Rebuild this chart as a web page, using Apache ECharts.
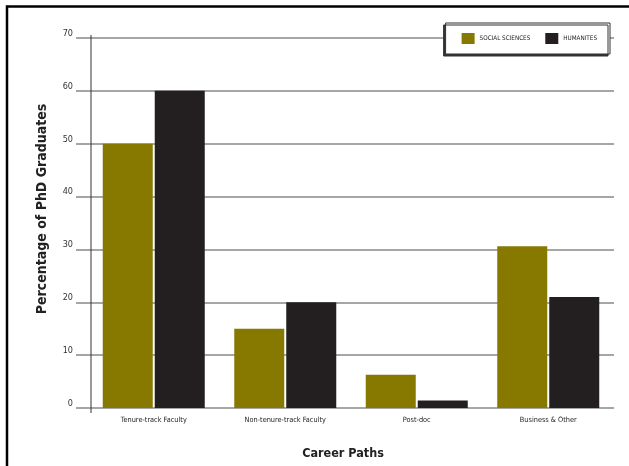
<!DOCTYPE html>
<html><head><meta charset="utf-8">
<script src="https://cdn.jsdelivr.net/npm/echarts@6/dist/echarts.min.js"></script>
<style>html,body{margin:0;padding:0;background:#fff}#c{width:629px;height:466px}</style>
</head><body><div id="c"></div>
<script>
const categories = ['Tenure-track Faculty', 'Non-tenure-track Faculty', 'Post-doc', 'Business & Other'];
const socialSciences = [50, 15, 6.3, 30.6];
const humanities = [60, 20, 1.4, 21];
const seriesNames = ['SOCIAL SCIENCES', 'HUMANITES'];
const FONT = '"Liberation Sans Narrow", "DejaVu Sans Condensed", "Liberation Sans", sans-serif';

const chart = echarts.init(document.getElementById('c'), null, {renderer: 'canvas'});
chart.setOption({
  animation: false,
  backgroundColor: '#fff',
  textStyle: {fontFamily: FONT},
  grid: {left: 88, right: 15, top: 38, bottom: 58, containLabel: false},
  legend: {
    right: 19, top: 23,
    padding: [10, 13, 10, 16],
    itemWidth: 13, itemHeight: 11, itemGap: 15,
    icon: 'rect',
    backgroundColor: '#fff', borderColor: '#333', borderWidth: 1,
    shadowColor: '#333', shadowOffsetX: -2, shadowOffsetY: 2, shadowBlur: 0,
    textStyle: {fontFamily: FONT, fontSize: 6.3, color: '#222'},
    data: seriesNames
  },
  xAxis: {
    type: 'category', data: categories,
    axisLine: {show: false}, axisTick: {show: false},
    axisLabel: {interval: 0, fontFamily: FONT, fontSize: 7.3, color: '#222', margin: 9},
    name: 'Career Paths', nameLocation: 'middle', nameGap: 39,
    nameTextStyle: {fontFamily: FONT, fontSize: 12.5, fontWeight: 'bold', color: '#222', padding: [0, 16, 0, 0]}
  },
  yAxis: {
    type: 'value', min: 0, max: 70, interval: 10,
    axisLine: {show: false},
    axisTick: {show: true, length: 12, lineStyle: {color: '#888', width: 1.5}},
    splitLine: {lineStyle: {color: '#888', width: 1.5}},
    axisLabel: {fontFamily: FONT, fontSize: 9, color: '#333', margin: 15, verticalAlign: 'bottom'},
    name: 'Percentage of PhD Graduates', nameLocation: 'middle', nameGap: 39, nameRotate: 90,
    nameTextStyle: {fontFamily: FONT, fontSize: 14, fontWeight: 'bold', color: '#222', padding: [0, 0, 0, 28]}
  },
  series: [
    {name: seriesNames[0], type: 'bar', data: socialSciences, barWidth: 50, barGap: '4%',
     itemStyle: {color: '#877800'}},
    {name: seriesNames[1], type: 'bar', data: humanities, barWidth: 50,
     itemStyle: {color: '#231f20'}}
  ],
  graphic: [
    {type: 'line', shape: {x1: 91, y1: 35, x2: 91, y2: 413}, style: {stroke: '#333', lineWidth: 1}, z: 10},
    {type: 'polyline', shape: {points: [[7, 470], [7, 6.5], [640, 6.5]]}, style: {stroke: '#000', lineWidth: 2.5, fill: null}, z: 10}
  ]
});
</script></body></html>
